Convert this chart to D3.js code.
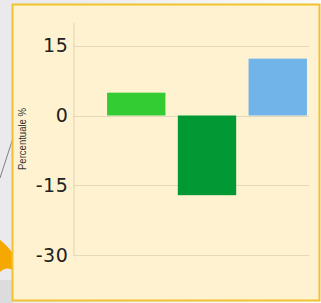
<!DOCTYPE html>
<html><head><meta charset="utf-8">
<script src="https://cdn.jsdelivr.net/npm/d3@7"></script>
<style>html,body{margin:0;padding:0;background:#f4f4f6;overflow:hidden}</style>
</head><body>
<svg id="c" width="321" height="303"></svg>
<script>
const categories = ["A", "B", "C"];
const values = [4.9, -17.1, 12.2];
const colors = ["#33cc33", "#009933", "#70b4ea"];
const tickValues = [15, 0, -15, -30];
const yLabel = "Percentuale %";

const svg = d3.select("#c");
// background decorations
const defs = svg.append("defs");
const g1 = defs.append("linearGradient").attr("id","bg").attr("x1",0).attr("x2",1).attr("y1",0).attr("y2",0);
g1.append("stop").attr("offset","0").attr("stop-color","#e9e9ee");
g1.append("stop").attr("offset","1").attr("stop-color","#fafafa");
svg.append("rect").attr("width",321).attr("height",303).attr("fill","url(#bg)");
svg.append("line").attr("x1",0).attr("y1",178).attr("x2",13).attr("y2",138).attr("stroke","#666").attr("stroke-width",0.8);
svg.append("path").attr("d","M0,240 Q8,246 13,254 L13,270 Q6,266 0,272 Z").attr("fill","#f5a800");
svg.append("rect").attr("x",0).attr("y",280).attr("width",13).attr("height",23).attr("fill","#dcdcdc");

// panel
svg.append("rect").attr("x",12.5).attr("y",4.5).attr("width",307).attr("height",296)
  .attr("fill","#fff2d0").attr("stroke","#f2c12e").attr("stroke-width",2);

const y = d3.scaleLinear().domain([-30, 20]).range([255.3, 22.3]);
const x = d3.scaleBand().domain(categories).range([100, 314]).paddingInner(0.175).paddingOuter(0.1);

// grid
svg.append("g").selectAll("line").data(tickValues).join("line")
  .attr("x1",73).attr("x2",309).attr("y1",d=>Math.round(y(d))+0.5).attr("y2",d=>Math.round(y(d))+0.5)
  .attr("stroke","#e6d9bb").attr("stroke-width",1);

// axis
const axis = d3.axisLeft(y).tickValues(tickValues).tickSize(0).tickPadding(5).tickFormat(d => String(d));
const ag = svg.append("g").attr("transform","translate(73.5,0)").call(axis);
ag.select(".domain").attr("stroke","#e0d3b4");
ag.selectAll("text").attr("font-family","DejaVu Sans, sans-serif").attr("font-size",19)
  .attr("letter-spacing",0.6).attr("fill","#222");

// bars
svg.append("g").selectAll("rect").data(values).join("rect")
  .attr("x",(d,i)=>x(categories[i])).attr("width",x.bandwidth())
  .attr("y",d=>y(Math.max(0,d))).attr("height",d=>Math.abs(y(d)-y(0)))
  .attr("fill",(d,i)=>colors[i]);

// y label
svg.append("text").attr("transform","translate(25.5,139) rotate(-90)")
  .attr("text-anchor","middle").attr("font-family","Liberation Sans, Arial, sans-serif")
  .attr("font-size",11).attr("textLength",62).attr("lengthAdjust","spacingAndGlyphs")
  .attr("fill","#333").text(yLabel);
</script>
</body></html>
